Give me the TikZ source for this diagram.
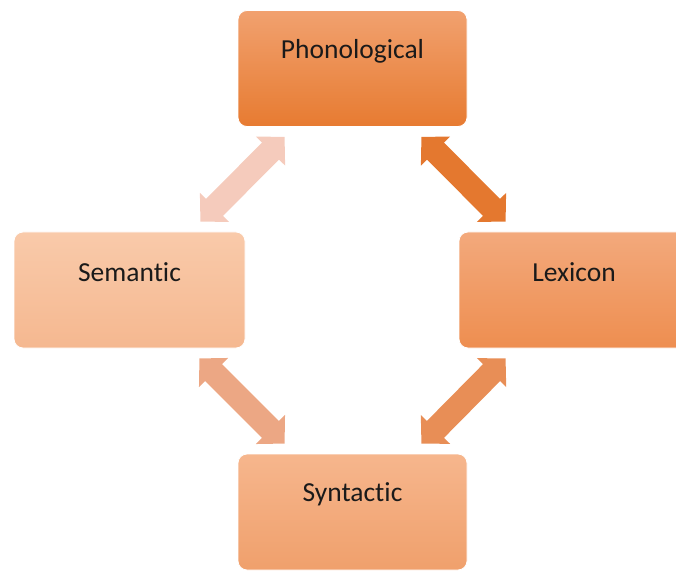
\documentclass[tikz,border=0pt]{standalone}
\usepackage{fontspec}
\setmainfont{Carlito}[Ligatures={NoCommon}]
\usetikzlibrary{arrows.meta,calc}
\definecolor{txt}{HTML}{1A1A1A}
\definecolor{aTL}{HTML}{F5CBBC}
\definecolor{aTR}{HTML}{E4782F}
\definecolor{aBL}{HTML}{ECA784}
\definecolor{aBR}{HTML}{E88E56}
\definecolor{pT}{HTML}{F1A16F}
\definecolor{pM}{HTML}{F58B3E}
\definecolor{pB}{HTML}{E77B31}
\definecolor{sT}{HTML}{F9CAAA}
\definecolor{sB}{HTML}{F5B890}
\definecolor{lT}{HTML}{F3A97C}
\definecolor{lM}{HTML}{F7985A}
\definecolor{lB}{HTML}{EE8E50}
\definecolor{yT}{HTML}{F6B68D}
\definecolor{yM}{HTML}{F7A877}
\definecolor{yB}{HTML}{F0A06C}
\tikzset{
  box/.style={rectangle, rounded corners=9pt, minimum width=229pt, minimum height=116pt,
    draw=white, line width=0.8pt, inner sep=0pt},
  lbl/.style={font=\fontsize{27.5}{30}\selectfont, text=txt, anchor=center},
  dbl/.style={line width=24pt, draw=#1,
    {Triangle[length=20pt,width=40pt]}-{Triangle[length=20pt,width=40pt]}},
}
\begin{document}
\begin{tikzpicture}[x=1pt,y=1pt]
\useasboundingbox (0,0) rectangle (676,573);
\clip (0,0) rectangle (676,573);
% boxes
\node[box, top color=pT, middle color=pM, bottom color=pB,
  label={[lbl,yshift=-41pt]north:Phonological}] (phon) at (352.5,504.5) {};
\node[box, top color=sT, bottom color=sB, minimum width=231pt,
  label={[lbl,yshift=-41pt]north:Semantic}] (sem) at (129.5,283) {};
\node[box, top color=lT, middle color=lM, bottom color=lB,
  minimum width=240pt, label={[lbl,yshift=-41pt,xshift=-5pt]north:Lexicon}] (lex) at (579,283) {};
\node[box, top color=yT, middle color=yM, bottom color=yB,
  label={[lbl,yshift=-41pt]north:Syntactic}] (syn) at (352.5,61) {};
% arrow end points
\coordinate (tl1) at ($(sem.north east)+(-45,10)$);
\coordinate (tl2) at ($(phon.south west)+(47,-10)$);
\coordinate (tr1) at ($(phon.south east)+(-46,-10)$);
\coordinate (tr2) at ($(lex.north west)+(47,10)$);
\coordinate (bl1) at ($(sem.south east)+(-46,-10)$);
\coordinate (bl2) at ($(syn.north west)+(47,10)$);
\coordinate (br1) at ($(lex.south west)+(47,-10)$);
\coordinate (br2) at ($(syn.north east)+(-46,10)$);
% arrows
\draw[dbl=aTL] (tl1) -- (tl2);
\draw[dbl=aTR] (tr1) -- (tr2);
\draw[dbl=aBL] (bl1) -- (bl2);
\draw[dbl=aBR] (br1) -- (br2);
\end{tikzpicture}
\end{document}
